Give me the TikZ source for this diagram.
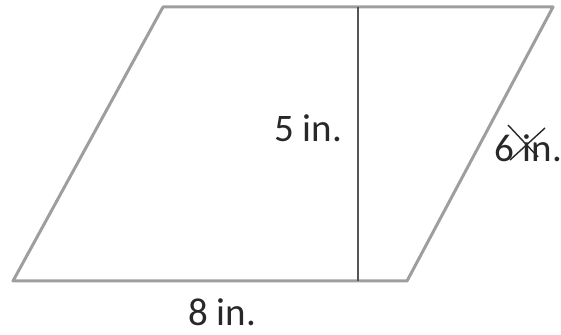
\documentclass[tikz,border=0pt]{standalone}
\usepackage{fontspec}
\setmainfont{Carlito}
\usetikzlibrary{positioning, calc}
\definecolor{edgegray}{RGB}{158,158,158}
\definecolor{heightgray}{RGB}{85,85,85}
\definecolor{labelgray}{RGB}{40,40,40}

\begin{document}
\begin{tikzpicture}[x=0.5pt, y=-0.5pt,
  every node/.style={font=\fontsize{19.5}{22}\selectfont, text=labelgray, inner sep=0pt},
  side/.style={draw=edgegray, line width=1.5pt, line join=round},
  height/.style={draw=heightgray, line width=0.9pt},
  scribble/.style={draw=labelgray, line width=0.7pt}]
  \useasboundingbox (0,0) rectangle (561,335);

  % corners of the parallelogram
  \coordinate (bl) at (13,281);
  \coordinate (br) at (407,281);
  \coordinate (tr) at (553,7);
  \coordinate (tl) at (163,7);
  \coordinate (htop) at (358,7);
  \coordinate (hfoot) at (358,281);

  \draw[side] (bl) -- (br) -- (tr) -- (tl) -- cycle;
  \draw[height] (htop) -- (hfoot);

  \node (h) at (308,128) {5 in.};
  \node (s) at (528,148) {6 in.};
  \node (b) at (222,312) {8 in.};

  % hand-drawn cross over the side label
  \draw[scribble] ($(s.center)+(-20,-23)$) -- ($(s.center)+(10,9)$);
  \draw[scribble] ($(s.center)+(17,-20)$) -- ($(s.center)+(-18,12)$);
\end{tikzpicture}
\end{document}
